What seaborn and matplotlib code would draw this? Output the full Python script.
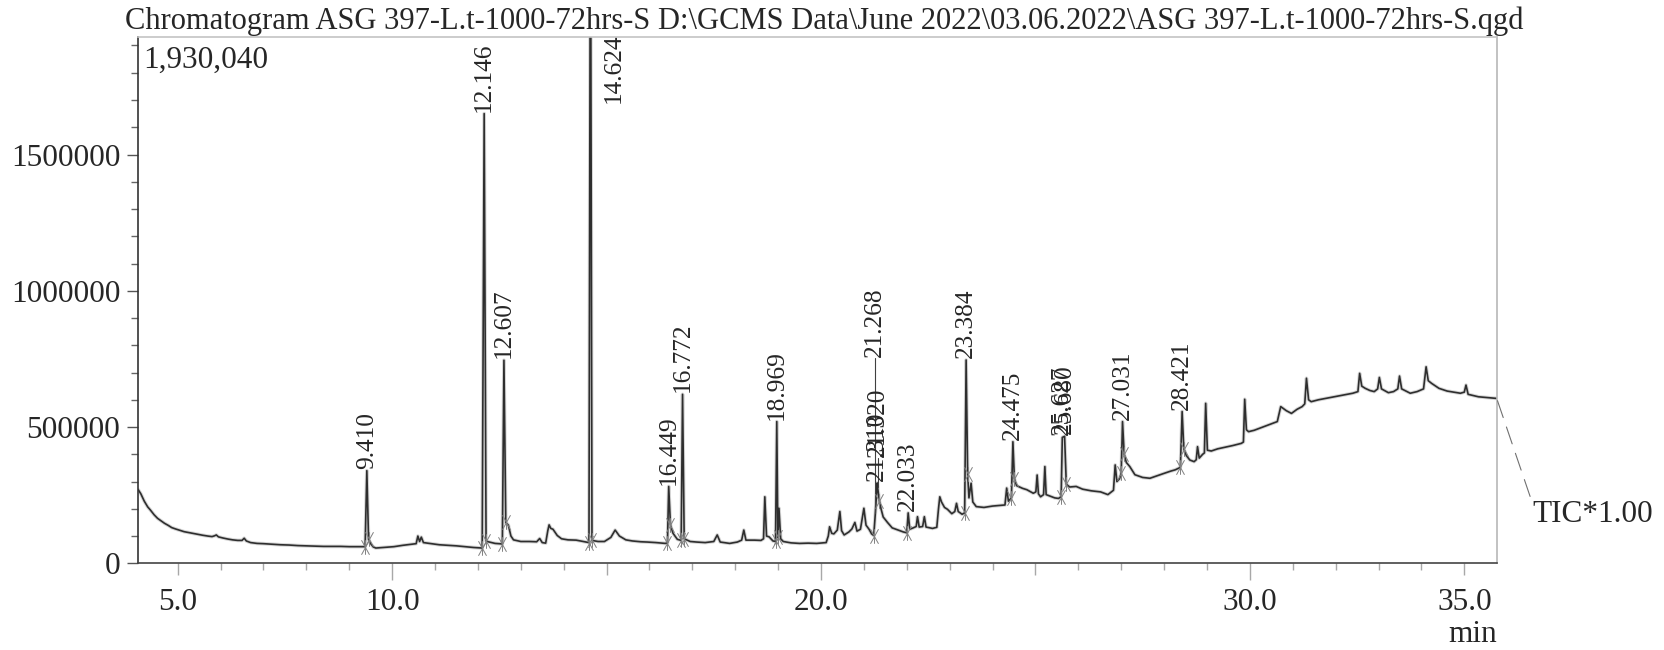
import matplotlib
matplotlib.use("Agg")
import matplotlib.pyplot as plt
from matplotlib.path import Path
from matplotlib.ticker import MultipleLocator
import pandas as pd
import seaborn as sns

# ---------------------------------------------------------------- data
title = ("Chromatogram ASG 397-L.t-1000-72hrs-S D:\\GCMS Data\\June 2022\\"
         "03.06.2022\\ASG 397-L.t-1000-72hrs-S.qgd")
y_max = 1930040
x_min, x_max = 4.081, 35.756
channel = "TIC*1.00"
x_unit = "min"

# TIC background trace (retention time in min, intensity)
bg_time = [
    4.08, 4.14, 4.22, 4.30, 4.36, 4.45, 4.53, 4.61, 4.69, 4.78, 4.86, 4.95,
    5.03, 5.15, 5.25, 5.35, 5.45, 5.58, 5.70, 5.80, 5.86, 5.90, 5.95, 6.05,
    6.17, 6.28, 6.40, 6.50, 6.55, 6.60, 6.70, 6.85, 7.00, 7.20, 7.40, 7.60,
    7.80, 8.00, 8.20, 8.40, 8.60, 8.80, 9.00, 9.20, 9.37, 9.45, 9.50, 9.56,
    9.62, 9.80, 10.04, 10.25, 10.45, 10.56, 10.60, 10.64, 10.68, 10.73, 10.87,
    11.10, 11.30, 11.50, 11.70, 11.90, 12.10, 12.19, 12.24, 12.40, 12.57,
    12.65, 12.71, 12.77, 12.83, 13.00, 13.20, 13.37, 13.44, 13.50, 13.58,
    13.63, 13.66, 13.70, 13.75, 13.85, 13.95, 14.10, 14.29, 14.45, 14.59,
    14.66, 14.80, 14.95, 15.10, 15.20, 15.30, 15.45, 15.60, 15.80, 15.95,
    16.15, 16.37, 16.42, 16.49, 16.55, 16.65, 16.74, 16.81, 16.95, 17.10,
    17.30, 17.50, 17.58, 17.65, 17.87, 18.05, 18.15, 18.20, 18.25, 18.45,
    18.60, 18.66, 18.73, 18.79, 18.88, 18.94, 18.995, 19.06, 19.12, 19.30,
    19.50, 19.70, 19.90, 20.12, 20.17, 20.20, 20.25, 20.30, 20.38, 20.48,
    20.54, 20.65, 20.72, 20.79, 20.84, 20.92, 21.05, 21.12, 21.18, 21.23,
    21.36, 21.40, 21.45, 21.55, 21.66, 21.80, 21.92, 22.00, 22.07, 22.15,
    22.22, 22.25, 22.29, 22.37, 22.41, 22.45, 22.60, 22.70, 22.74, 22.77,
    22.81, 22.88, 22.95, 23.05, 23.12, 23.16, 23.20, 23.29, 23.35, 23.42,
    23.45, 23.50, 23.54, 23.62, 23.80, 24.00, 24.15, 24.29, 24.33, 24.37,
    24.44, 24.51, 24.56, 24.70, 24.80, 24.95, 25.01, 25.04, 25.07, 25.12,
    25.19, 25.22, 25.25, 25.35, 25.45, 25.54, 25.60, 25.72, 25.80, 25.95,
    26.10, 26.30, 26.52, 26.69, 26.82, 26.86, 26.90, 26.96, 27.00, 27.07,
    27.12, 27.20, 27.32, 27.50, 27.67, 27.85, 28.00, 28.15, 28.26, 28.38,
    28.46, 28.52, 28.60, 28.70, 28.75, 28.78, 28.82, 28.90, 28.94, 29.01,
    29.10, 29.25, 29.40, 29.60, 29.80, 29.85, 29.92, 29.97, 30.10, 30.30,
    30.50, 30.64, 30.72, 30.85, 30.97, 31.10, 31.22, 31.28, 31.37, 31.43,
    31.60, 31.80, 31.98, 32.20, 32.40, 32.52, 32.61, 32.69, 32.80, 32.90,
    32.98, 33.07, 33.23, 33.35, 33.45, 33.54, 33.74, 33.90, 34.05, 34.16,
    34.24, 34.41, 34.60, 34.75, 34.91, 35.00, 35.09, 35.33, 35.55, 35.756,
]
bg_intensity = [
    270000, 255000, 228000, 207000, 196000, 178000, 165000, 156000, 147000,
    139000, 131000, 126000, 122000, 116000, 113000, 110000, 107000, 103000,
    100000, 98000, 101000, 104000, 97000, 93000, 89000, 86000, 84000, 84000,
    92000, 82000, 76000, 73000, 72000, 70000, 68000, 67000, 65000, 64000,
    63000, 62000, 62000, 62000, 61000, 61000, 61000, 88000, 72000, 60000,
    56000, 58000, 61000, 66000, 70000, 72000, 100000, 80000, 96000, 76000,
    73000, 68000, 66000, 64000, 61000, 58000, 56000, 82000, 79000, 73000,
    71000, 150000, 140000, 100000, 86000, 80000, 80000, 79000, 91000, 76000,
    74000, 120000, 141000, 128000, 125000, 102000, 90000, 86000, 85000,
    80000, 76000, 84000, 80000, 80000, 95000, 122000, 100000, 86000, 82000,
    79000, 78000, 76000, 73000, 75000, 140000, 110000, 88000, 84000, 90000,
    80000, 78000, 76000, 80000, 104000, 78000, 73000, 78000, 85000, 122000,
    85000, 85000, 84000, 90000, 100000, 97000, 82000, 80000, 95000, 90000,
    80000, 75000, 73000, 74000, 73000, 76000, 100000, 134000, 110000,
    108000, 122000, 120000, 104000, 115000, 126000, 150000, 118000, 125000,
    140000, 125000, 108000, 102000, 230000, 200000, 170000, 150000, 130000,
    122000, 115000, 112000, 125000, 130000, 135000, 171000, 133000, 135000,
    171000, 133000, 128000, 132000, 200000, 244000, 225000, 205000, 198000,
    182000, 190000, 220000, 190000, 180000, 185000, 326000, 240000, 294000,
    225000, 208000, 205000, 210000, 212000, 214000, 276000, 228000, 240000,
    310000, 285000, 275000, 270000, 257000, 262000, 324000, 255000, 244000,
    252000, 355000, 252000, 246000, 240000, 238000, 245000, 290000, 280000,
    282000, 272000, 266000, 262000, 252000, 268000, 361000, 300000, 310000,
    330000, 400000, 370000, 355000, 325000, 315000, 312000, 322000, 330000,
    338000, 343000, 352000, 420000, 395000, 379000, 373000, 380000, 428000,
    386000, 400000, 405000, 415000, 412000, 420000, 425000, 432000, 440000,
    445000, 490000, 483000, 488000, 500000, 512000, 520000, 575000, 560000,
    550000, 565000, 575000, 585000, 600000, 593000, 600000, 606000, 611000,
    618000, 624000, 630000, 650000, 642000, 634000, 630000, 640000, 640000,
    626000, 630000, 640000, 640000, 624000, 630000, 640000, 670000, 660000,
    642000, 632000, 628000, 624000, 628000, 620000, 611000, 608000, 605000,
]

# identified peaks: retention time, apex intensity, height of the label foot
peak_rt = [9.410, 12.146, 12.607, 14.624, 16.449, 16.772, 18.969, 21.268,
           21.310, 21.320, 22.033, 23.384, 24.475, 25.627, 25.680, 27.031,
           28.421]
peak_height = [340000, 1650000, 745000, 2600000, 282000, 620000, 520000,
               185000, 295000, 280000, 185000, 746000, 446000, 462000,
               466000, 520000, 557000]
label_level = [342000, 1650000, 747000, 1688000, 284000, 622000, 522000,
               753000, 296000, 386000, 187000, 748000, 448000, 464000,
               470000, 522000, 559000]

# unlabelled peaks
minor_rt = [18.69, 19.02, 20.44, 21.00, 28.97, 29.88, 31.32, 32.56, 33.02,
            33.49, 34.11, 35.04]
minor_height = [244000, 202000, 190000, 202000, 587000, 602000, 679000,
                697000, 682000, 687000, 721000, 654000]

# integration start / end marks
mark_time = [9.37, 9.45, 12.10, 12.19, 12.57, 12.65, 14.59, 14.66, 16.42,
             16.49, 16.74, 16.81, 18.94, 18.995, 21.23, 21.36, 22.00, 23.35,
             23.42, 24.44, 24.51, 25.60, 25.72, 27.00, 27.07, 28.38, 28.46]
mark_level = [61000, 88000, 56000, 82000, 71000, 150000, 76000, 84000, 75000,
              140000, 84000, 90000, 80000, 95000, 102000, 230000, 112000,
              185000, 326000, 240000, 310000, 245000, 290000, 330000, 400000,
              352000, 420000]

y_ticks = [0, 500000, 1000000, 1500000]
x_ticks = [5, 10, 15, 20, 25, 30, 35]
x_tick_labels = ["5.0", "10.0", "", "20.0", "", "30.0", "35.0"]
x_long_ticks = [10, 20, 30]

# ---------------------------------------------------------------- style
sns.set_theme(style="ticks")
plt.rcParams["font.family"] = ["Liberation Serif", "DejaVu Serif"]
plt.rcParams["font.size"] = 22.5
FS = 22.5
FS_PEAK = 18.3

W, H = 1664, 650
fig = plt.figure(figsize=(W / 100, H / 100), dpi=100)
ax = fig.add_axes([138.3 / W, 1 - 563.3 / H, (1496.7 - 138.3) / W,
                   (563.3 - 37.3) / H])

trace = pd.DataFrame({
    "time": bg_time + peak_rt + minor_rt,
    "intensity": bg_intensity + peak_height + minor_height,
}).sort_values("time")

# soft halo under the trace gives the grainy detector band, then the trace
sns.lineplot(data=trace, x="time", y="intensity", estimator=None,
             sort=False, color="#8a8a8a", linewidth=2.6, alpha=0.35, ax=ax)
sns.lineplot(data=trace, x="time", y="intensity", estimator=None,
             sort=False, color="#2e2e2e", linewidth=1.2, ax=ax)

# integration marks: vertical stroke crossed by two steep diagonals
mark_path = Path(
    [(0, -1), (0, 1), (-0.55, -1), (0.55, 1), (0.55, -1), (-0.55, 1)],
    [Path.MOVETO, Path.LINETO, Path.MOVETO, Path.LINETO, Path.MOVETO,
     Path.LINETO])
ax.scatter(mark_time, mark_level, marker=mark_path, s=110, color="#808080",
           linewidths=0.7, zorder=3)

# peak labels
for rt, h, lv in zip(peak_rt, peak_height, label_level):
    txt = f"{rt:.3f}"
    if h > y_max:
        ax.annotate(txt, xy=(rt, lv), xytext=(17, 0),
                    textcoords="offset points", rotation=90, ha="center",
                    va="bottom", fontsize=FS_PEAK)
        continue
    if lv - h > 20000:
        ax.plot([rt, rt], [h, lv], color="#404040", lw=0.8)
    ax.annotate(txt, xy=(rt, lv), xytext=(0, 1), textcoords="offset points",
                rotation=90, ha="center", va="bottom", fontsize=FS_PEAK)

ax.set_xlim(x_min, x_max)
ax.set_ylim(0, y_max)
ax.set_xlabel("")
ax.set_ylabel("")

ax.set_xticks(x_ticks)
ax.set_xticklabels(x_tick_labels)
ax.xaxis.set_minor_locator(MultipleLocator(1))
ax.set_yticks(y_ticks)
ax.set_yticklabels([str(v) for v in y_ticks])
ax.yaxis.set_minor_locator(MultipleLocator(100000))

ax.tick_params(axis="x", which="major", length=8.6, width=1.0,
               color="#a8a8a8", pad=9, labelsize=FS)
ax.tick_params(axis="x", which="minor", length=5, width=1.0,
               color="#a8a8a8")
ax.tick_params(axis="y", which="major", length=8, width=1.0,
               color="#555555", pad=5, labelsize=FS)
ax.tick_params(axis="y", which="minor", length=5, width=1.0,
               color="#666666")
for tick, loc in zip(ax.xaxis.get_major_ticks(), x_ticks):
    if loc in x_long_ticks:
        tick.tick1line.set_markersize(12.2)

for side, col in [("left", "#333333"), ("bottom", "#444444"),
                  ("top", "#c4c4c4"), ("right", "#b8b8b8")]:
    ax.spines[side].set_visible(True)
    ax.spines[side].set_color(col)
    ax.spines[side].set_linewidth(1.2)

ax.text(0.004, 0.9416, f"{y_max:,}", transform=ax.transAxes,
        ha="left", va="baseline", fontsize=FS)

ax.annotate(channel, xy=(bg_time[-1], bg_intensity[-1]), xycoords="data",
            xytext=(1532.7 / W, 1 - 521.7 / H), textcoords="figure fraction",
            ha="left", va="baseline", fontsize=FS, annotation_clip=False,
            arrowprops=dict(arrowstyle="-", color="#707070", lw=0.8,
                            linestyle=(0, (16, 9)), shrinkA=0, shrinkB=0,
                            relpos=(0, 0.85)))

fig.text(1497 / W, 1 - 641.7 / H, x_unit, ha="right", va="baseline",
         fontsize=FS)
fig.text(824 / W, 1 - 29.5 / H, title, ha="center", va="baseline",
         fontsize=22)

fig.savefig("out.png", dpi=100, facecolor="white")
